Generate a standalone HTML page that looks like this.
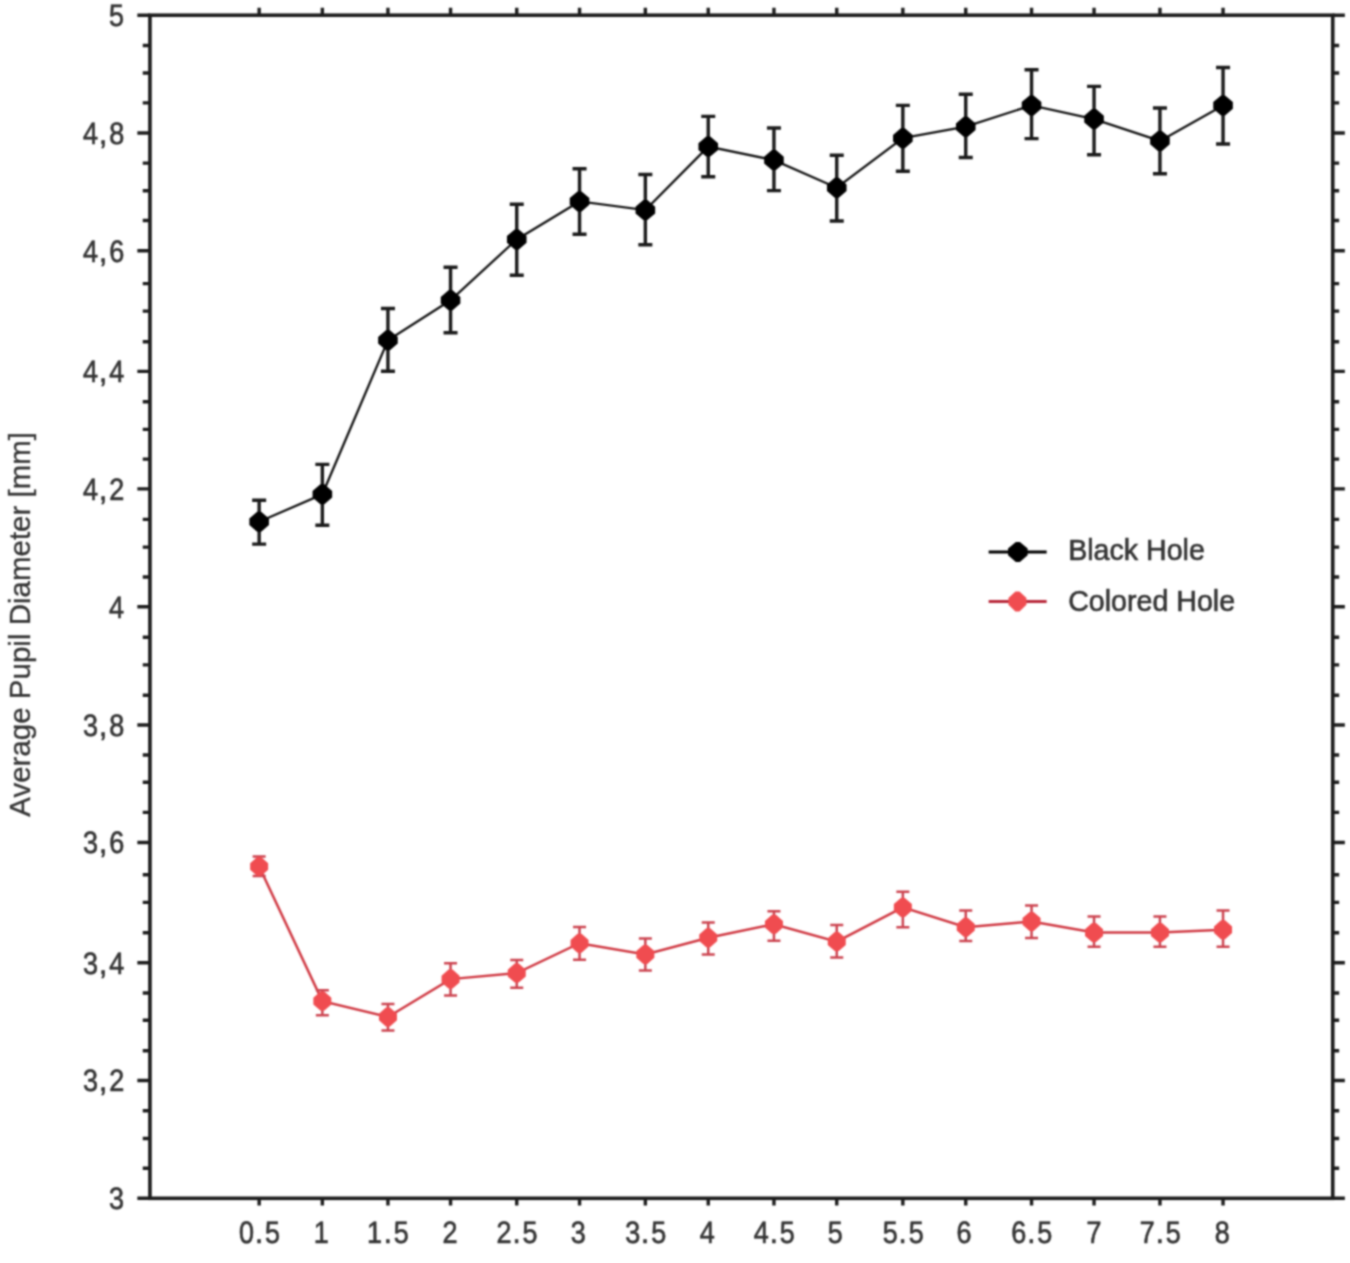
<!DOCTYPE html>
<html><head><meta charset="utf-8"><style>
html,body{margin:0;padding:0;background:#fff;width:1350px;height:1263px;overflow:hidden}
svg{display:block}
text{font-family:"Liberation Sans",sans-serif;fill:#333;stroke:#333;stroke-width:0.6px}
</style></head><body>
<svg width="1350" height="1263" viewBox="0 0 1350 1263">
<defs><filter id="b" color-interpolation-filters="sRGB" x="0" y="0" width="1350" height="1263" filterUnits="userSpaceOnUse"><feConvolveMatrix order="5" kernelMatrix="0.0014 0.009 0.0168 0.009 0.0014 0.009 0.0576 0.1067 0.0576 0.009 0.0168 0.1067 0.1979 0.1067 0.0168 0.009 0.0576 0.1067 0.0576 0.009 0.0014 0.009 0.0168 0.009 0.0014" divisor="1" edgeMode="none"/></filter></defs>
<g filter="url(#b)"><rect width="1350" height="1263" fill="#fff"/><g transform="translate(0.15,0.4)">

<rect x="149.8" y="14.8" width="1182.8" height="1183.1" fill="none" stroke="#1c1c1c" stroke-width="3.6"/>
<path d="M137.2 14.8H149.8M1332.6 14.8H1344.7M142.6 45.1H149.8M1332.6 45.1H1339.0M142.6 72.6H149.8M1332.6 72.6H1339.0M142.6 102.5H149.8M1332.6 102.5H1339.0M137.2 132.6H149.8M1332.6 132.6H1344.7M142.6 162.7H149.8M1332.6 162.7H1339.0M142.6 190.4H149.8M1332.6 190.4H1339.0M142.6 220.1H149.8M1332.6 220.1H1339.0M137.2 250.3H149.8M1332.6 250.3H1344.7M142.6 283.2H149.8M1332.6 283.2H1339.0M142.6 310.7H149.8M1332.6 310.7H1339.0M142.6 341.3H149.8M1332.6 341.3H1339.0M137.2 371.0H149.8M1332.6 371.0H1344.7M142.6 401.3H149.8M1332.6 401.3H1339.0M142.6 429.0H149.8M1332.6 429.0H1339.0M142.6 458.7H149.8M1332.6 458.7H1339.0M137.2 488.5H149.8M1332.6 488.5H1344.7M142.6 519.0H149.8M1332.6 519.0H1339.0M142.6 546.7H149.8M1332.6 546.7H1339.0M142.6 576.6H149.8M1332.6 576.6H1339.0M137.2 606.3H149.8M1332.6 606.3H1344.7M142.6 636.8H149.8M1332.6 636.8H1339.0M142.6 664.5H149.8M1332.6 664.5H1339.0M142.6 694.8H149.8M1332.6 694.8H1339.0M137.2 724.6H149.8M1332.6 724.6H1344.7M142.6 754.6H149.8M1332.6 754.6H1339.0M142.6 781.9H149.8M1332.6 781.9H1339.0M142.6 812.0H149.8M1332.6 812.0H1339.0M137.2 842.1H149.8M1332.6 842.1H1344.7M142.6 874.3H149.8M1332.6 874.3H1339.0M142.6 902.0H149.8M1332.6 902.0H1339.0M142.6 932.3H149.8M1332.6 932.3H1339.0M137.2 962.4H149.8M1332.6 962.4H1344.7M142.6 992.6H149.8M1332.6 992.6H1339.0M142.6 1019.9H149.8M1332.6 1019.9H1339.0M142.6 1050.4H149.8M1332.6 1050.4H1339.0M137.2 1080.1H149.8M1332.6 1080.1H1344.7M142.6 1110.4H149.8M1332.6 1110.4H1339.0M142.6 1138.1H149.8M1332.6 1138.1H1339.0M142.6 1167.8H149.8M1332.6 1167.8H1339.0M137.2 1197.9H149.8M1332.6 1197.9H1344.7M259.0 14.8V7.4M259.0 1197.9V1205.0M322.2 14.8V7.4M322.2 1197.9V1205.0M387.8 14.8V7.4M387.8 1197.9V1205.0M450.4 14.8V7.4M450.4 1197.9V1205.0M516.6 14.8V7.4M516.6 1197.9V1205.0M579.4 14.8V7.4M579.4 1197.9V1205.0M645.2 14.8V7.4M645.2 1197.9V1205.0M708.1 14.8V7.4M708.1 1197.9V1205.0M773.8 14.8V7.4M773.8 1197.9V1205.0M836.6 14.8V7.4M836.6 1197.9V1205.0M902.7 14.8V7.4M902.7 1197.9V1205.0M965.6 14.8V7.4M965.6 1197.9V1205.0M1031.4 14.8V7.4M1031.4 1197.9V1205.0M1093.9 14.8V7.4M1093.9 1197.9V1205.0M1159.8 14.8V7.4M1159.8 1197.9V1205.0M1222.9 14.8V7.4M1222.9 1197.9V1205.0" stroke="#1c1c1c" stroke-width="3.4" fill="none"/>
<text transform="translate(116.30,14.90) skewX(0.3) scale(0.0920,0.1050)" y="103.2" font-size="295" text-anchor="middle" style="stroke-width:6.19px">5</text>
<text transform="translate(90.30,132.70) skewX(0.3) scale(0.0920,0.1050)" y="103.2" font-size="295" text-anchor="middle" style="stroke-width:6.19px">4</text>
<text transform="translate(102.80,132.70) skewX(0.3) scale(0.1000,0.1050)" y="103.2" font-size="295" text-anchor="middle" style="stroke-width:6.19px">,</text>
<text transform="translate(116.60,132.70) skewX(0.3) scale(0.0920,0.1050)" y="103.2" font-size="295" text-anchor="middle" style="stroke-width:6.19px">8</text>
<text transform="translate(90.30,250.40) skewX(0.3) scale(0.0920,0.1050)" y="103.2" font-size="295" text-anchor="middle" style="stroke-width:6.19px">4</text>
<text transform="translate(102.80,250.40) skewX(0.3) scale(0.1000,0.1050)" y="103.2" font-size="295" text-anchor="middle" style="stroke-width:6.19px">,</text>
<text transform="translate(116.60,250.40) skewX(0.3) scale(0.0920,0.1050)" y="103.2" font-size="295" text-anchor="middle" style="stroke-width:6.19px">6</text>
<text transform="translate(90.30,371.10) skewX(0.3) scale(0.0920,0.1050)" y="103.2" font-size="295" text-anchor="middle" style="stroke-width:6.19px">4</text>
<text transform="translate(102.80,371.10) skewX(0.3) scale(0.1000,0.1050)" y="103.2" font-size="295" text-anchor="middle" style="stroke-width:6.19px">,</text>
<text transform="translate(116.60,371.10) skewX(0.3) scale(0.0920,0.1050)" y="103.2" font-size="295" text-anchor="middle" style="stroke-width:6.19px">4</text>
<text transform="translate(90.30,488.60) skewX(0.3) scale(0.0920,0.1050)" y="103.2" font-size="295" text-anchor="middle" style="stroke-width:6.19px">4</text>
<text transform="translate(102.80,488.60) skewX(0.3) scale(0.1000,0.1050)" y="103.2" font-size="295" text-anchor="middle" style="stroke-width:6.19px">,</text>
<text transform="translate(116.60,488.60) skewX(0.3) scale(0.0920,0.1050)" y="103.2" font-size="295" text-anchor="middle" style="stroke-width:6.19px">2</text>
<text transform="translate(116.30,606.40) skewX(0.3) scale(0.0920,0.1050)" y="103.2" font-size="295" text-anchor="middle" style="stroke-width:6.19px">4</text>
<text transform="translate(90.30,724.70) skewX(0.3) scale(0.0920,0.1050)" y="103.2" font-size="295" text-anchor="middle" style="stroke-width:6.19px">3</text>
<text transform="translate(102.80,724.70) skewX(0.3) scale(0.1000,0.1050)" y="103.2" font-size="295" text-anchor="middle" style="stroke-width:6.19px">,</text>
<text transform="translate(116.60,724.70) skewX(0.3) scale(0.0920,0.1050)" y="103.2" font-size="295" text-anchor="middle" style="stroke-width:6.19px">8</text>
<text transform="translate(90.30,842.20) skewX(0.3) scale(0.0920,0.1050)" y="103.2" font-size="295" text-anchor="middle" style="stroke-width:6.19px">3</text>
<text transform="translate(102.80,842.20) skewX(0.3) scale(0.1000,0.1050)" y="103.2" font-size="295" text-anchor="middle" style="stroke-width:6.19px">,</text>
<text transform="translate(116.60,842.20) skewX(0.3) scale(0.0920,0.1050)" y="103.2" font-size="295" text-anchor="middle" style="stroke-width:6.19px">6</text>
<text transform="translate(90.30,962.50) skewX(0.3) scale(0.0920,0.1050)" y="103.2" font-size="295" text-anchor="middle" style="stroke-width:6.19px">3</text>
<text transform="translate(102.80,962.50) skewX(0.3) scale(0.1000,0.1050)" y="103.2" font-size="295" text-anchor="middle" style="stroke-width:6.19px">,</text>
<text transform="translate(116.60,962.50) skewX(0.3) scale(0.0920,0.1050)" y="103.2" font-size="295" text-anchor="middle" style="stroke-width:6.19px">4</text>
<text transform="translate(90.30,1080.20) skewX(0.3) scale(0.0920,0.1050)" y="103.2" font-size="295" text-anchor="middle" style="stroke-width:6.19px">3</text>
<text transform="translate(102.80,1080.20) skewX(0.3) scale(0.1000,0.1050)" y="103.2" font-size="295" text-anchor="middle" style="stroke-width:6.19px">,</text>
<text transform="translate(116.60,1080.20) skewX(0.3) scale(0.0920,0.1050)" y="103.2" font-size="295" text-anchor="middle" style="stroke-width:6.19px">2</text>
<text transform="translate(116.30,1198.00) skewX(0.3) scale(0.0920,0.1050)" y="103.2" font-size="295" text-anchor="middle" style="stroke-width:6.19px">3</text>
<text transform="translate(246.30,1231.40) skewX(0.3) scale(0.0920,0.1050)" y="103.2" font-size="295" text-anchor="middle" style="stroke-width:6.19px">0</text>
<text transform="translate(258.80,1231.40) skewX(0.3) scale(0.1000,0.1050)" y="103.2" font-size="295" text-anchor="middle" style="stroke-width:6.19px">.</text>
<text transform="translate(272.30,1231.40) skewX(0.3) scale(0.0920,0.1050)" y="103.2" font-size="295" text-anchor="middle" style="stroke-width:6.19px">5</text>
<text transform="translate(321.00,1231.40) skewX(0.3) scale(0.0920,0.1050)" y="103.2" font-size="295" text-anchor="middle" style="stroke-width:6.19px">1</text>
<text transform="translate(374.30,1231.40) skewX(0.3) scale(0.0920,0.1050)" y="103.2" font-size="295" text-anchor="middle" style="stroke-width:6.19px">1</text>
<text transform="translate(387.60,1231.40) skewX(0.3) scale(0.1000,0.1050)" y="103.2" font-size="295" text-anchor="middle" style="stroke-width:6.19px">.</text>
<text transform="translate(401.10,1231.40) skewX(0.3) scale(0.0920,0.1050)" y="103.2" font-size="295" text-anchor="middle" style="stroke-width:6.19px">5</text>
<text transform="translate(449.90,1231.40) skewX(0.3) scale(0.0920,0.1050)" y="103.2" font-size="295" text-anchor="middle" style="stroke-width:6.19px">2</text>
<text transform="translate(503.90,1231.40) skewX(0.3) scale(0.0920,0.1050)" y="103.2" font-size="295" text-anchor="middle" style="stroke-width:6.19px">2</text>
<text transform="translate(516.40,1231.40) skewX(0.3) scale(0.1000,0.1050)" y="103.2" font-size="295" text-anchor="middle" style="stroke-width:6.19px">.</text>
<text transform="translate(529.90,1231.40) skewX(0.3) scale(0.0920,0.1050)" y="103.2" font-size="295" text-anchor="middle" style="stroke-width:6.19px">5</text>
<text transform="translate(578.20,1231.40) skewX(0.3) scale(0.0920,0.1050)" y="103.2" font-size="295" text-anchor="middle" style="stroke-width:6.19px">3</text>
<text transform="translate(632.50,1231.40) skewX(0.3) scale(0.0920,0.1050)" y="103.2" font-size="295" text-anchor="middle" style="stroke-width:6.19px">3</text>
<text transform="translate(645.00,1231.40) skewX(0.3) scale(0.1000,0.1050)" y="103.2" font-size="295" text-anchor="middle" style="stroke-width:6.19px">.</text>
<text transform="translate(658.50,1231.40) skewX(0.3) scale(0.0920,0.1050)" y="103.2" font-size="295" text-anchor="middle" style="stroke-width:6.19px">5</text>
<text transform="translate(707.10,1231.40) skewX(0.3) scale(0.0920,0.1050)" y="103.2" font-size="295" text-anchor="middle" style="stroke-width:6.19px">4</text>
<text transform="translate(761.10,1231.40) skewX(0.3) scale(0.0920,0.1050)" y="103.2" font-size="295" text-anchor="middle" style="stroke-width:6.19px">4</text>
<text transform="translate(773.60,1231.40) skewX(0.3) scale(0.1000,0.1050)" y="103.2" font-size="295" text-anchor="middle" style="stroke-width:6.19px">.</text>
<text transform="translate(787.10,1231.40) skewX(0.3) scale(0.0920,0.1050)" y="103.2" font-size="295" text-anchor="middle" style="stroke-width:6.19px">5</text>
<text transform="translate(835.10,1231.40) skewX(0.3) scale(0.0920,0.1050)" y="103.2" font-size="295" text-anchor="middle" style="stroke-width:6.19px">5</text>
<text transform="translate(890.00,1231.40) skewX(0.3) scale(0.0920,0.1050)" y="103.2" font-size="295" text-anchor="middle" style="stroke-width:6.19px">5</text>
<text transform="translate(902.50,1231.40) skewX(0.3) scale(0.1000,0.1050)" y="103.2" font-size="295" text-anchor="middle" style="stroke-width:6.19px">.</text>
<text transform="translate(916.00,1231.40) skewX(0.3) scale(0.0920,0.1050)" y="103.2" font-size="295" text-anchor="middle" style="stroke-width:6.19px">5</text>
<text transform="translate(963.80,1231.40) skewX(0.3) scale(0.0920,0.1050)" y="103.2" font-size="295" text-anchor="middle" style="stroke-width:6.19px">6</text>
<text transform="translate(1018.70,1231.40) skewX(0.3) scale(0.0920,0.1050)" y="103.2" font-size="295" text-anchor="middle" style="stroke-width:6.19px">6</text>
<text transform="translate(1031.20,1231.40) skewX(0.3) scale(0.1000,0.1050)" y="103.2" font-size="295" text-anchor="middle" style="stroke-width:6.19px">.</text>
<text transform="translate(1044.70,1231.40) skewX(0.3) scale(0.0920,0.1050)" y="103.2" font-size="295" text-anchor="middle" style="stroke-width:6.19px">5</text>
<text transform="translate(1093.90,1231.40) skewX(0.3) scale(0.0920,0.1050)" y="103.2" font-size="295" text-anchor="middle" style="stroke-width:6.19px">7</text>
<text transform="translate(1147.10,1231.40) skewX(0.3) scale(0.0920,0.1050)" y="103.2" font-size="295" text-anchor="middle" style="stroke-width:6.19px">7</text>
<text transform="translate(1159.60,1231.40) skewX(0.3) scale(0.1000,0.1050)" y="103.2" font-size="295" text-anchor="middle" style="stroke-width:6.19px">.</text>
<text transform="translate(1173.10,1231.40) skewX(0.3) scale(0.0920,0.1050)" y="103.2" font-size="295" text-anchor="middle" style="stroke-width:6.19px">5</text>
<text transform="translate(1222.10,1231.40) skewX(0.3) scale(0.0920,0.1050)" y="103.2" font-size="295" text-anchor="middle" style="stroke-width:6.19px">8</text>
<text transform="translate(30.2,623.9) rotate(-90)" font-size="29.5" text-anchor="middle" style="stroke-width:0.3px">Average Pupil Diameter [mm]</text>
<polyline points="259.0,521.4 322.2,493.9 387.8,339.8 450.4,299.9 516.6,239.0 579.4,201.0 645.2,209.7 708.1,146.2 773.8,159.7 836.6,187.3 902.7,137.8 965.6,126.3 1031.4,105.0 1093.9,118.7 1159.8,140.5 1222.9,105.0" fill="none" stroke="#151515" stroke-width="2.3"/>
<path d="M259.0 499.9V543.7M252.0 499.9H266.0M252.0 543.7H266.0M322.2 464.0V524.9M315.2 464.0H329.2M315.2 524.9H329.2M387.8 308.1V370.9M380.8 308.1H394.8M380.8 370.9H394.8M450.4 266.9V332.3M443.4 266.9H457.4M443.4 332.3H457.4M516.6 203.9V274.8M509.6 203.9H523.6M509.6 274.8H523.6M579.4 168.3V233.8M572.4 168.3H586.4M572.4 233.8H586.4M645.2 174.1V244.4M638.2 174.1H652.2M638.2 244.4H652.2M708.1 116.0V176.3M701.1 116.0H715.1M701.1 176.3H715.1M773.8 127.6V190.2M766.8 127.6H780.8M766.8 190.2H780.8M836.6 154.9V220.6M829.6 154.9H843.6M829.6 220.6H843.6M902.7 105.0V170.9M895.7 105.0H909.7M895.7 170.9H909.7M965.6 93.8V157.1M958.6 93.8H972.6M958.6 157.1H972.6M1031.4 69.4V138.2M1024.4 69.4H1038.4M1024.4 138.2H1038.4M1093.9 86.0V154.3M1086.9 86.0H1100.9M1086.9 154.3H1100.9M1159.8 107.6V173.3M1152.8 107.6H1166.8M1152.8 173.3H1166.8M1222.9 67.1V143.6M1215.9 67.1H1229.9M1215.9 143.6H1229.9" stroke="#1a1a1a" stroke-width="3.4" fill="none"/>
<polygon points="257.0,511.4 261.0,511.4 268.8,518.1 268.8,524.7 261.0,531.4 257.0,531.4 249.2,524.7 249.2,518.1" fill="#000"/>
<polygon points="320.2,483.9 324.2,483.9 332.0,490.6 332.0,497.2 324.2,503.9 320.2,503.9 312.4,497.2 312.4,490.6" fill="#000"/>
<polygon points="385.8,329.8 389.8,329.8 397.6,336.5 397.6,343.1 389.8,349.8 385.8,349.8 378.0,343.1 378.0,336.5" fill="#000"/>
<polygon points="448.4,289.9 452.4,289.9 460.2,296.6 460.2,303.2 452.4,309.9 448.4,309.9 440.6,303.2 440.6,296.6" fill="#000"/>
<polygon points="514.6,229.0 518.6,229.0 526.4,235.7 526.4,242.3 518.6,249.0 514.6,249.0 506.8,242.3 506.8,235.7" fill="#000"/>
<polygon points="577.4,191.0 581.4,191.0 589.2,197.7 589.2,204.3 581.4,211.0 577.4,211.0 569.6,204.3 569.6,197.7" fill="#000"/>
<polygon points="643.2,199.7 647.2,199.7 655.0,206.4 655.0,213.0 647.2,219.7 643.2,219.7 635.4,213.0 635.4,206.4" fill="#000"/>
<polygon points="706.1,136.2 710.1,136.2 717.9,142.9 717.9,149.5 710.1,156.2 706.1,156.2 698.3,149.5 698.3,142.9" fill="#000"/>
<polygon points="771.8,149.7 775.8,149.7 783.6,156.4 783.6,163.0 775.8,169.7 771.8,169.7 764.0,163.0 764.0,156.4" fill="#000"/>
<polygon points="834.6,177.3 838.6,177.3 846.4,184.0 846.4,190.6 838.6,197.3 834.6,197.3 826.8,190.6 826.8,184.0" fill="#000"/>
<polygon points="900.7,127.8 904.7,127.8 912.5,134.5 912.5,141.1 904.7,147.8 900.7,147.8 892.9,141.1 892.9,134.5" fill="#000"/>
<polygon points="963.6,116.3 967.6,116.3 975.4,123.0 975.4,129.6 967.6,136.3 963.6,136.3 955.8,129.6 955.8,123.0" fill="#000"/>
<polygon points="1029.4,95.0 1033.4,95.0 1041.2,101.7 1041.2,108.3 1033.4,115.0 1029.4,115.0 1021.6,108.3 1021.6,101.7" fill="#000"/>
<polygon points="1091.9,108.7 1095.9,108.7 1103.7,115.4 1103.7,122.0 1095.9,128.7 1091.9,128.7 1084.1,122.0 1084.1,115.4" fill="#000"/>
<polygon points="1157.8,130.5 1161.8,130.5 1169.6,137.2 1169.6,143.8 1161.8,150.5 1157.8,150.5 1150.0,143.8 1150.0,137.2" fill="#000"/>
<polygon points="1220.9,95.0 1224.9,95.0 1232.7,101.7 1232.7,108.3 1224.9,115.0 1220.9,115.0 1213.1,108.3 1213.1,101.7" fill="#000"/>
<polyline points="259.0,866.1 322.2,1000.7 387.8,1016.6 450.4,978.7 516.6,972.7 579.4,942.8 645.2,954.0 708.1,937.4 773.8,923.8 836.6,941.2 902.7,907.0 965.6,926.9 1031.4,921.0 1093.9,932.2 1159.8,932.2 1222.9,929.3" fill="none" stroke="#d03a44" stroke-width="2.5"/>
<path d="M259.0 856.0V875.5M252.5 856.0H265.5M252.5 875.5H265.5M322.2 989.8V1014.9M315.7 989.8H328.7M315.7 1014.9H328.7M387.8 1003.5V1030.1M381.3 1003.5H394.3M381.3 1030.1H394.3M450.4 962.8V995.2M443.9 962.8H456.9M443.9 995.2H456.9M516.6 959.7V987.4M510.1 959.7H523.1M510.1 987.4H523.1M579.4 926.7V959.4M572.9 926.7H585.9M572.9 959.4H585.9M645.2 938.0V970.0M638.7 938.0H651.7M638.7 970.0H651.7M708.1 922.0V954.2M701.6 922.0H714.6M701.6 954.2H714.6M773.8 910.8V940.4M767.3 910.8H780.3M767.3 940.4H780.3M836.6 924.6V957.0M830.1 924.6H843.1M830.1 957.0H843.1M902.7 891.3V926.9M896.2 891.3H909.2M896.2 926.9H909.2M965.6 910.0V940.5M959.1 910.0H972.1M959.1 940.5H972.1M1031.4 905.0V937.6M1024.9 905.0H1037.9M1024.9 937.6H1037.9M1093.9 916.0V946.4M1087.4 916.0H1100.4M1087.4 946.4H1100.4M1159.8 916.0V946.4M1153.3 916.0H1166.3M1153.3 946.4H1166.3M1222.9 910.0V946.4M1216.4 910.0H1229.4M1216.4 946.4H1229.4" stroke="#cc4450" stroke-width="2.5" fill="none"/>
<polygon points="257.0,856.6 261.0,856.6 268.0,862.8 268.0,869.4 261.0,875.6 257.0,875.6 250.0,869.4 250.0,862.8" fill="#f04c50"/>
<polygon points="320.2,991.2 324.2,991.2 331.2,997.4 331.2,1004.0 324.2,1010.2 320.2,1010.2 313.2,1004.0 313.2,997.4" fill="#f04c50"/>
<polygon points="385.8,1007.1 389.8,1007.1 396.8,1013.3 396.8,1019.9 389.8,1026.1 385.8,1026.1 378.8,1019.9 378.8,1013.3" fill="#f04c50"/>
<polygon points="448.4,969.2 452.4,969.2 459.4,975.4 459.4,982.0 452.4,988.2 448.4,988.2 441.4,982.0 441.4,975.4" fill="#f04c50"/>
<polygon points="514.6,963.2 518.6,963.2 525.6,969.4 525.6,976.0 518.6,982.2 514.6,982.2 507.6,976.0 507.6,969.4" fill="#f04c50"/>
<polygon points="577.4,933.3 581.4,933.3 588.4,939.5 588.4,946.1 581.4,952.3 577.4,952.3 570.4,946.1 570.4,939.5" fill="#f04c50"/>
<polygon points="643.2,944.5 647.2,944.5 654.2,950.7 654.2,957.3 647.2,963.5 643.2,963.5 636.2,957.3 636.2,950.7" fill="#f04c50"/>
<polygon points="706.1,927.9 710.1,927.9 717.1,934.1 717.1,940.7 710.1,946.9 706.1,946.9 699.1,940.7 699.1,934.1" fill="#f04c50"/>
<polygon points="771.8,914.3 775.8,914.3 782.8,920.5 782.8,927.1 775.8,933.3 771.8,933.3 764.8,927.1 764.8,920.5" fill="#f04c50"/>
<polygon points="834.6,931.7 838.6,931.7 845.6,937.9 845.6,944.5 838.6,950.7 834.6,950.7 827.6,944.5 827.6,937.9" fill="#f04c50"/>
<polygon points="900.7,897.5 904.7,897.5 911.7,903.7 911.7,910.3 904.7,916.5 900.7,916.5 893.7,910.3 893.7,903.7" fill="#f04c50"/>
<polygon points="963.6,917.4 967.6,917.4 974.6,923.6 974.6,930.2 967.6,936.4 963.6,936.4 956.6,930.2 956.6,923.6" fill="#f04c50"/>
<polygon points="1029.4,911.5 1033.4,911.5 1040.4,917.7 1040.4,924.3 1033.4,930.5 1029.4,930.5 1022.4,924.3 1022.4,917.7" fill="#f04c50"/>
<polygon points="1091.9,922.7 1095.9,922.7 1102.9,928.9 1102.9,935.5 1095.9,941.7 1091.9,941.7 1084.9,935.5 1084.9,928.9" fill="#f04c50"/>
<polygon points="1157.8,922.7 1161.8,922.7 1168.8,928.9 1168.8,935.5 1161.8,941.7 1157.8,941.7 1150.8,935.5 1150.8,928.9" fill="#f04c50"/>
<polygon points="1220.9,919.8 1224.9,919.8 1231.9,926.0 1231.9,932.6 1224.9,938.8 1220.9,938.8 1213.9,932.6 1213.9,926.0" fill="#f04c50"/>
<path d="M988.5 551.6H1046.5" stroke="#000" stroke-width="3"/>
<polygon points="1015.7,541.5 1019.7,541.5 1027.5,548.2 1027.5,554.8 1019.7,561.5 1015.7,561.5 1007.9,554.8 1007.9,548.2" fill="#000"/>
<path d="M988.5 601H1046.5" stroke="#b8283a" stroke-width="3"/>
<polygon points="1015.3,591.0 1019.3,591.0 1026.3,597.7 1026.3,604.3 1019.3,611.0 1015.3,611.0 1008.3,604.3 1008.3,597.7" fill="#f04c50"/>
<text transform="translate(1068,550.2) scale(1,1.000)" y="9.84" font-size="28.6">Black Hole</text>
<text transform="translate(1068,600.9) scale(1,1.000)" y="9.84" font-size="28.6">Colored Hole</text>
</g></g></svg>
</body></html>
